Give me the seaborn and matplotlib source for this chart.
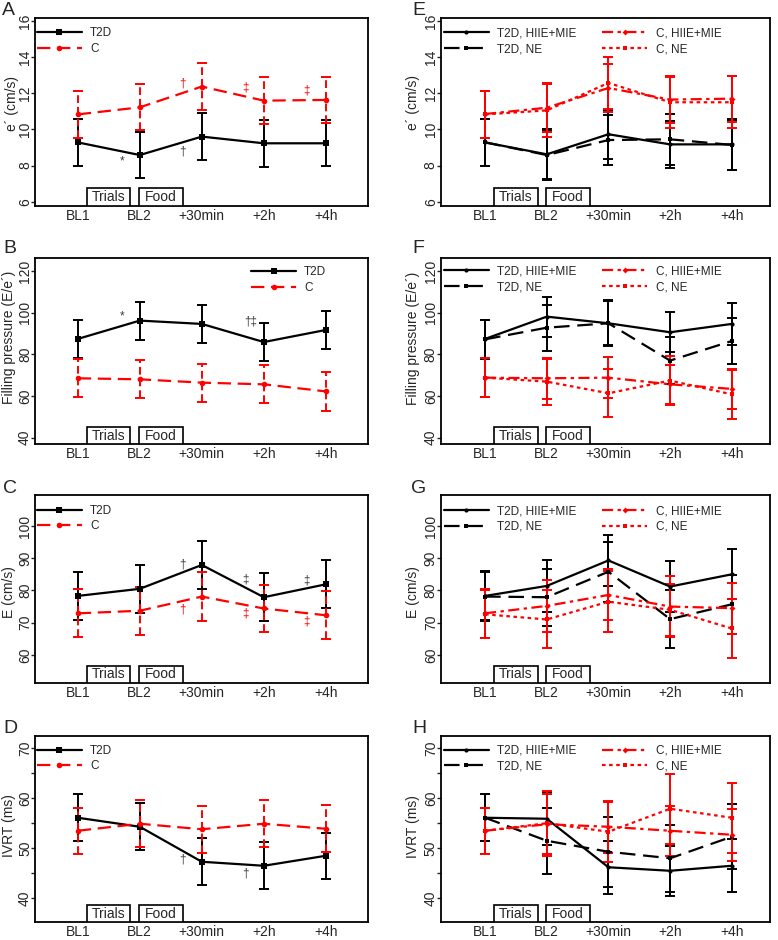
import matplotlib
matplotlib.use("Agg")
import matplotlib.pyplot as plt
import matplotlib.transforms as mtransforms
from matplotlib.patches import Rectangle
import numpy as np
import pandas as pd
import seaborn as sns

# ---------------- data ----------------
timepoints = ["BL1", "BL2", "+30min", "+2h", "+4h"]

# Panel A: e' (cm/s)
A_t2d = [9.28, 8.58, 9.60, 9.23, 9.23]
A_t2d_err = [1.29, 1.29, 1.28, 1.30, 1.28]
A_c = [10.83, 11.22, 12.37, 11.59, 11.63]
A_c_err = [1.29, 1.27, 1.28, 1.29, 1.28]

# Panel B: filling pressure (E/e')
B_t2d = [87.4, 96.2, 94.6, 85.9, 91.7]
B_t2d_err = [9.2, 9.1, 9.2, 9.1, 9.2]
B_c = [68.5, 68.0, 66.4, 65.6, 62.2]
B_c_err = [9.2, 9.1, 9.1, 9.2, 9.2]

# Panel C: E (cm/s)
C_t2d = [78.3, 80.5, 87.9, 77.9, 81.9]
C_t2d_err = [7.5, 7.4, 7.5, 7.4, 7.5]
C_c = [72.9, 73.7, 78.1, 74.4, 72.3]
C_c_err = [7.4, 7.5, 7.5, 7.4, 7.5]

# Panel D: IVRT (ms)
D_t2d = [56.1, 54.3, 47.3, 46.5, 48.5]
D_t2d_err = [4.7, 4.7, 4.7, 4.7, 4.55]
D_c = [53.5, 54.9, 53.8, 54.9, 53.9]
D_c_err = [4.6, 4.65, 4.65, 4.7, 4.65]

# Panel E: e' by trial
E_t2d_ex = [9.28, 8.62, 9.73, 9.17, 9.17]
E_t2d_ex_err = [1.3, 1.4, 1.35, 1.3, 1.4]
E_t2d_ne = [9.28, 8.58, 9.41, 9.45, 9.14]
E_t2d_ne_err = [1.3, 1.35, 1.4, 1.4, 1.4]
E_c_ex = [10.85, 11.20, 12.29, 11.65, 11.70]
E_c_ex_err = [1.3, 1.35, 1.31, 1.3, 1.28]
E_c_ne = [10.83, 11.05, 12.57, 11.50, 11.50]
E_c_ne_err = [1.3, 1.45, 1.42, 1.42, 1.45]

# Panel F: filling pressure by trial
F_t2d_ex = [87.4, 98.1, 94.9, 90.6, 94.6]
F_t2d_ex_err = [9.3, 9.6, 10.5, 9.6, 9.9]
F_t2d_ne = [87.2, 92.8, 94.9, 77.0, 86.4]
F_t2d_ne_err = [9.3, 11.0, 11.0, 11.2, 11.0]
F_c_ex = [68.8, 68.5, 68.8, 65.6, 63.4]
F_c_ex_err = [9.4, 9.8, 9.7, 9.3, 9.7]
F_c_ne = [68.8, 66.9, 61.3, 67.4, 60.8]
F_c_ne_err = [9.4, 11.0, 11.5, 11.8, 11.7]

# Panel G: E by trial
G_t2d_ex = [78.3, 81.4, 89.3, 81.2, 85.0]
G_t2d_ex_err = [7.6, 8.1, 7.8, 8.0, 7.8]
G_t2d_ne = [78.1, 77.9, 85.8, 71.1, 75.7]
G_t2d_ne_err = [7.6, 8.9, 9.3, 9.0, 9.1]
G_c_ex = [72.9, 75.2, 78.6, 75.0, 74.5]
G_c_ex_err = [7.5, 8.1, 7.9, 9.5, 7.9]
G_c_ne = [72.6, 71.0, 76.5, 74.0, 68.2]
G_c_ne_err = [7.5, 9.0, 9.5, 8.0, 9.3]

# Panel H: IVRT by trial
H_t2d_ex = [56.1, 55.9, 46.2, 45.5, 46.5]
H_t2d_ex_err = [4.7, 5.3, 5.3, 5.0, 5.3]
H_t2d_ne = [56.1, 51.5, 49.3, 48.0, 52.3]
H_t2d_ne_err = [4.7, 6.6, 7.0, 6.7, 6.5]
H_c_ex = [53.5, 54.8, 54.3, 53.5, 52.7]
H_c_ex_err = [4.6, 6.0, 5.2, 5.0, 5.2]
H_c_ne = [53.5, 55.0, 53.3, 57.9, 56.1]
H_c_ne_err = [4.6, 6.5, 6.0, 7.0, 7.0]

# significance marks: (symbol, x position, y value, group)
A_marks = [("*", 0.71, 8.25, "T2D"), ("\u2020", 1.69, 8.77, "T2D"),
           ("\u2020", 1.69, 12.55, "C"), ("\u2021", 2.71, 12.33, "C"),
           ("\u2021", 3.69, 12.14, "C")]
B_marks = [("*", 0.71, 98.1, "T2D"), ("\u2020\u2021", 2.79, 96.0, "T2D")]
C_marks = [("\u2020", 1.69, 88.2, "T2D"), ("\u2021", 2.71, 83.3, "T2D"),
           ("\u2021", 3.69, 83.0, "T2D"), ("\u2020", 1.69, 74.0, "C"),
           ("\u2021", 2.71, 72.7, "C"), ("\u2021", 3.69, 70.3, "C")]
D_marks = [("\u2020", 1.69, 47.8, "T2D"), ("\u2020", 2.70, 45.0, "T2D")]

box_labels = ["Trials", "Food"]
box_x0 = [0.15, 0.99]
box_x1 = [0.85, 1.70]

# ---------------- style ----------------
sns.set_theme(style="ticks")
plt.rcParams['font.family'] = ['Liberation Sans', 'DejaVu Sans']
plt.rcParams['axes.linewidth'] = 1.3

RED = "#ff0000"
BLK = "#000000"
MARK_COL = {"T2D": "#3a3a3a", "C": RED}

styles = {
    "T2D": dict(color=BLK, ls="-", marker="s", ms=4.5, els="-"),
    "C": dict(color=RED, ls=(0, (6, 3)), marker="o", ms=4, els=(0, (4, 2))),
    "T2D_ex": dict(color=BLK, ls="-", marker="o", ms=3, els="-"),
    "T2D_ne": dict(color=BLK, ls=(0, (7, 3.5)), marker="s", ms=3.5, els="-"),
    "C_ex": dict(color=RED, ls=(0, (5, 2, 1.5, 2)), marker="D", ms=3, els="-"),
    "C_ne": dict(color=RED, ls=(0, (1.6, 1.6)), marker="s", ms=3, els="-"),
}

W, H = 778, 940
fig = plt.figure(figsize=(W / 100, H / 100), dpi=100)


def add_ax(l, r, t, b):
    return fig.add_axes([l / W, 1 - b / H, (r - l) / W, (b - t) / H])


xpos = np.arange(len(timepoints))


def draw_panel(rect, xlim, ylim, yticks, yminor, ylabel, lab_xy, series,
               marks, leg_loc, leg_anchor, ncol, letter, letter_xy):
    ax = add_ax(*rect)
    handles, labels = [], []
    for vals, errs, lab, key in series:
        st = styles[key]
        eb = ax.errorbar(xpos, vals, yerr=errs, fmt="none", ecolor=st["color"],
                         elinewidth=1.4, capsize=3.9, capthick=1.4, zorder=2)
        eb[2][0].set_linestyle(st["els"])
        df = pd.DataFrame({"time": xpos, "value": vals})
        sns.lineplot(data=df, x="time", y="value", ax=ax, color=st["color"],
                     linestyle=st["ls"], lw=1.6, marker=st["marker"],
                     markersize=st["ms"], markeredgecolor=st["color"],
                     markeredgewidth=0, errorbar=None, legend=False, zorder=3)
        handles.append(ax.lines[-1])
        labels.append(lab)
    for sym, mx, my, grp in marks:
        ax.text(mx, my, sym, ha="center", va="center", fontsize=8.5,
                color=MARK_COL[grp])
    trans = mtransforms.blended_transform_factory(ax.transData, ax.transAxes)
    for bl, b0, b1 in zip(box_labels, box_x0, box_x1):
        ax.add_patch(Rectangle((b0, 0), b1 - b0, 0.094, transform=trans,
                               facecolor="white", edgecolor="black", lw=1.2,
                               zorder=4))
        ax.text((b0 + b1) / 2, 0.047, bl, transform=trans, ha="center",
                va="center", fontsize=10, zorder=5)
    ax.set_xlim(*xlim)
    ax.set_ylim(*ylim)
    ax.set_xticks(xpos)
    ax.set_xticklabels(timepoints, fontsize=10)
    ax.set_yticks(yticks)
    ax.set_yticklabels([str(v) for v in yticks], fontsize=10)
    if yminor:
        ax.set_yticks(yminor, minor=True)
    ax.tick_params(axis="x", length=0, pad=2)
    ax.tick_params(axis="y", which="both", length=2.6, width=1, pad=-0.5,
                   labelrotation=90, direction="out")
    for t in ax.get_yticklabels():
        t.set_va("center")
    ax.set_xlabel("")
    ax.set_ylabel(ylabel, fontsize=10)
    ax.yaxis.label.set_va("center")
    ax.yaxis.set_label_coords(*lab_xy)
    for s in ax.spines.values():
        s.set_visible(True)
        s.set_linewidth(1.3)
        s.set_color("black")
    ax.legend(handles, labels, loc=leg_loc, bbox_to_anchor=leg_anchor,
              ncol=ncol, frameon=False, fontsize=8.5, handlelength=3.8,
              handletextpad=0.7, labelspacing=0.3, columnspacing=2.2,
              borderpad=0, borderaxespad=0, numpoints=1)
    fig.text(letter_xy[0] / W, 1 - letter_xy[1] / H, letter, fontsize=14,
             ha="left", va="baseline")
    return ax


LX = (35, 368)
RX = (440.7, 770)
LXLIM = (-0.69, 4.68)
RXLIM = (-0.72, 4.62)

rows = [
    dict(t=17.7, b=206, ylim=(5.76, 16.18), yticks=[6, 8, 10, 12, 14, 16], minor=None,
         ylabel="e\u00b4 (cm/s)"),
    dict(t=257.7, b=444.3, ylim=(36.8, 126.4), yticks=[40, 60, 80, 100, 120], minor=None,
         ylabel="Filling pressure (E/e\u00b4)"),
    dict(t=495, b=683.3, ylim=(51.2, 109.6), yticks=[60, 70, 80, 90, 100], minor=None,
         ylabel="E (cm/s)"),
    dict(t=735.7, b=922.3, ylim=(35.2, 72.5), yticks=[40, 50, 60, 70], minor=[45, 55, 65],
         ylabel="IVRT (ms)"),
]

left_series = [
    [(A_t2d, A_t2d_err, "T2D", "T2D"), (A_c, A_c_err, "C", "C")],
    [(B_t2d, B_t2d_err, "T2D", "T2D"), (B_c, B_c_err, "C", "C")],
    [(C_t2d, C_t2d_err, "T2D", "T2D"), (C_c, C_c_err, "C", "C")],
    [(D_t2d, D_t2d_err, "T2D", "T2D"), (D_c, D_c_err, "C", "C")],
]
right_series = [
    [(E_t2d_ex, E_t2d_ex_err, "T2D, HIIE+MIE", "T2D_ex"), (E_t2d_ne, E_t2d_ne_err, "T2D, NE", "T2D_ne"),
     (E_c_ex, E_c_ex_err, "C, HIIE+MIE", "C_ex"), (E_c_ne, E_c_ne_err, "C, NE", "C_ne")],
    [(F_t2d_ex, F_t2d_ex_err, "T2D, HIIE+MIE", "T2D_ex"), (F_t2d_ne, F_t2d_ne_err, "T2D, NE", "T2D_ne"),
     (F_c_ex, F_c_ex_err, "C, HIIE+MIE", "C_ex"), (F_c_ne, F_c_ne_err, "C, NE", "C_ne")],
    [(G_t2d_ex, G_t2d_ex_err, "T2D, HIIE+MIE", "T2D_ex"), (G_t2d_ne, G_t2d_ne_err, "T2D, NE", "T2D_ne"),
     (G_c_ex, G_c_ex_err, "C, HIIE+MIE", "C_ex"), (G_c_ne, G_c_ne_err, "C, NE", "C_ne")],
    [(H_t2d_ex, H_t2d_ex_err, "T2D, HIIE+MIE", "T2D_ex"), (H_t2d_ne, H_t2d_ne_err, "T2D, NE", "T2D_ne"),
     (H_c_ex, H_c_ex_err, "C, HIIE+MIE", "C_ex"), (H_c_ne, H_c_ne_err, "C, NE", "C_ne")],
]
left_marks = [A_marks, B_marks, C_marks, D_marks]
left_letters = ["A", "B", "C", "D"]
right_letters = ["E", "F", "G", "H"]
left_letter_xy = [(2, 15), (3, 253), (3, 493), (3, 733)]
right_letter_xy = [(412, 15), (412, 253), (411, 493), (412, 733)]
left_lab = [(12, 0.542), (9, 0.573), (9.5, 0.482), (9.5, 0.518)]
right_lab = [(412.5, 0.55), (413, 0.567), (413, 0.486), (413, 0.512)]
left_leg = [("upper left", (0.006, 0.948)), ("upper right", (0.875, 0.955)),
            ("upper left", (0.006, 0.948)), ("upper left", (0.006, 0.952))]
right_leg_y = [0.948, 0.958, 0.945, 0.952]

for i, r in enumerate(rows):
    w = LX[1] - LX[0]
    draw_panel((LX[0], LX[1], r["t"], r["b"]), LXLIM, r["ylim"], r["yticks"], r["minor"],
               r["ylabel"], ((left_lab[i][0] - LX[0]) / w, left_lab[i][1]),
               left_series[i], left_marks[i], left_leg[i][0], left_leg[i][1], 1,
               left_letters[i], left_letter_xy[i])
    w = RX[1] - RX[0]
    draw_panel((RX[0], RX[1], r["t"], r["b"]), RXLIM, r["ylim"], r["yticks"], r["minor"],
               r["ylabel"], ((right_lab[i][0] - RX[0]) / w, right_lab[i][1]),
               right_series[i], [], "upper left", (0.01, right_leg_y[i]), 2,
               right_letters[i], right_letter_xy[i])

fig.savefig("out.png", dpi=100, facecolor="white")
